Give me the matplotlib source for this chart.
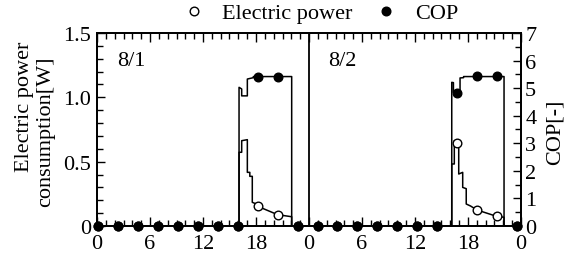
import matplotlib
matplotlib.use("Agg")
import matplotlib.pyplot as plt
from matplotlib.ticker import MultipleLocator, FixedLocator, FixedFormatter

plt.rcParams['font.family'] = ['Liberation Serif', 'DejaVu Serif']
plt.rcParams['mathtext.fontset'] = 'stix'

# ---------------- data ----------------
# time in hours over two days (0-48); day 2 starts at 24
power_t = [0, 16.08, 16.08, 16.38, 16.38, 17.02, 17.02, 17.30, 17.30, 17.58, 17.58,
           17.90, 18.20, 20.45, 22.04, 22.04,
           40.16, 40.16, 40.45, 40.45, 40.95, 40.95, 41.40, 41.40, 41.80, 41.80,
           42.30, 43.00, 45.25, 46.08, 46.08, 48]
power_v = [0, 0, 0.573, 0.573, 0.663, 0.671, 0.417, 0.417, 0.386, 0.386, 0.184,
           0.175, 0.153, 0.088, 0.072, 0,
           0, 0.482, 0.482, 0.663, 0.660, 0.404, 0.417, 0.300, 0.290, 0.171,
           0.155, 0.125, 0.075, 0.068, 0, 0]

cop_t = [0, 16.08, 16.08, 16.38, 16.38, 17.02, 17.02, 17.70, 17.70, 22.04, 22.04,
         40.16, 40.16, 40.35, 40.35, 41.10, 41.10, 41.50, 41.50, 46.08, 46.08, 48]
cop_v = [0, 0, 5.03, 4.97, 4.72, 4.72, 5.33, 5.38, 5.42, 5.42, 0,
         0, 5.21, 5.20, 4.85, 4.85, 5.37, 5.38, 5.42, 5.42, 0, 0]

marker_t = [0.15, 2.40, 4.65, 6.90, 9.20, 11.45, 13.70, 15.95, 18.20, 20.45, 22.70,
            25.00, 27.20, 29.45, 31.70, 33.95, 36.20, 38.50, 40.75, 43.00, 45.25, 47.50]
marker_power = [0, 0, 0, 0, 0, 0, 0, 0, 0.153, 0.088, 0,
                0, 0, 0, 0, 0, 0, 0, 0.643, 0.125, 0.075, 0]
marker_cop = [0, 0, 0, 0, 0, 0, 0, 0, 5.42, 5.42, 0,
              0, 0, 0, 0, 0, 0, 0, 4.82, 5.43, 5.43, 0]

xtick_pos = [0, 6, 12, 18, 24, 30, 36, 42, 48]
xtick_labels = ['0', '6', '12', '18', '0', '6', '12', '18', '0']
ytick_left = [0, 0.5, 1.0, 1.5]
ytick_left_labels = ['0', '0.5', '1.0', '1.5']
ytick_right = [0, 1, 2, 3, 4, 5, 6, 7]
day_labels = ['8/1', '8/2']
day_label_x = [2.3, 26.2]

# ---------------- figure ----------------
W, H = 572, 255
fig = plt.figure(figsize=(W / 100, H / 100), dpi=100)
ax1 = fig.add_axes([97 / W, 1 - 227 / H, (521 - 97) / W, (227 - 34) / H])
ax2 = ax1.twinx()

lw = 1.1
ax1.plot(power_t, power_v, color='black', lw=lw, zorder=3)
hp, = ax1.plot(marker_t, marker_power, ls='none', marker='o', ms=6.2,
               mfc='white', mec='black', mew=1.0, clip_on=False, zorder=4)
ax2.plot(cop_t, cop_v, color='black', lw=lw, zorder=3)
hc, = ax2.plot(marker_t, marker_cop, ls='none', marker='o', ms=6.2,
               mfc='black', mec='black', mew=1.0, clip_on=False, zorder=5)

ax1.axvline(24, color='black', lw=1.3, zorder=2)

ax1.set_xlim(0, 48)
ax1.set_ylim(0, 1.5)
ax2.set_ylim(0, 7)

ax1.xaxis.set_major_locator(FixedLocator(xtick_pos))
ax1.xaxis.set_major_formatter(FixedFormatter(xtick_labels))
ax1.xaxis.set_minor_locator(MultipleLocator(1))
ax1.yaxis.set_major_locator(FixedLocator(ytick_left))
ax1.yaxis.set_major_formatter(FixedFormatter(ytick_left_labels))
ax1.yaxis.set_minor_locator(MultipleLocator(0.1))
ax2.yaxis.set_major_locator(FixedLocator(ytick_right))
ax2.yaxis.set_minor_locator(MultipleLocator(0.5))

fs = 16
ax1.tick_params(axis='x', which='both', direction='in', top=True, bottom=True,
                labelsize=fs, pad=5.5)
ax1.tick_params(axis='x', which='major', length=6.5, width=1.0)
ax1.tick_params(axis='x', which='minor', length=4, width=1.0)
ax1.tick_params(axis='y', which='both', direction='in', left=True, right=False,
                labelsize=fs, pad=4)
ax1.tick_params(axis='y', which='major', length=6, width=1.0)
ax1.tick_params(axis='y', which='minor', length=4, width=1.0)
ax2.tick_params(axis='y', which='both', direction='in', labelsize=fs, pad=3)
ax2.tick_params(axis='y', which='major', length=6, width=1.0)
ax2.tick_params(axis='y', which='minor', length=4, width=1.0)

for ax in (ax1, ax2):
    for s in ax.spines.values():
        s.set_linewidth(1.3)

for lab, xd in zip(day_labels, day_label_x):
    ax1.text(xd, 1.29, lab, fontsize=fs, va='center', ha='left')

fig.text(24 / W, 1 - 107 / H, 'Electric power', rotation=90, fontsize=fs,
         ha='center', va='center')
fig.text(46 / W, 1 - 132 / H, 'consumption[W]', rotation=90, fontsize=fs,
         ha='center', va='center')
fig.text(555 / W, 1 - 132 / H, 'COP[-]', rotation=90, fontsize=fs,
         ha='center', va='center')

fig.legend([hp, hc], ['Electric power', 'COP'], loc='center',
           bbox_to_anchor=(0.56, 1 - 14 / H), ncol=2, frameon=False,
           fontsize=fs, handlelength=1.0, handletextpad=0.8, columnspacing=1.0,
           borderpad=0, borderaxespad=0)

fig.savefig('out.png', dpi=100)
